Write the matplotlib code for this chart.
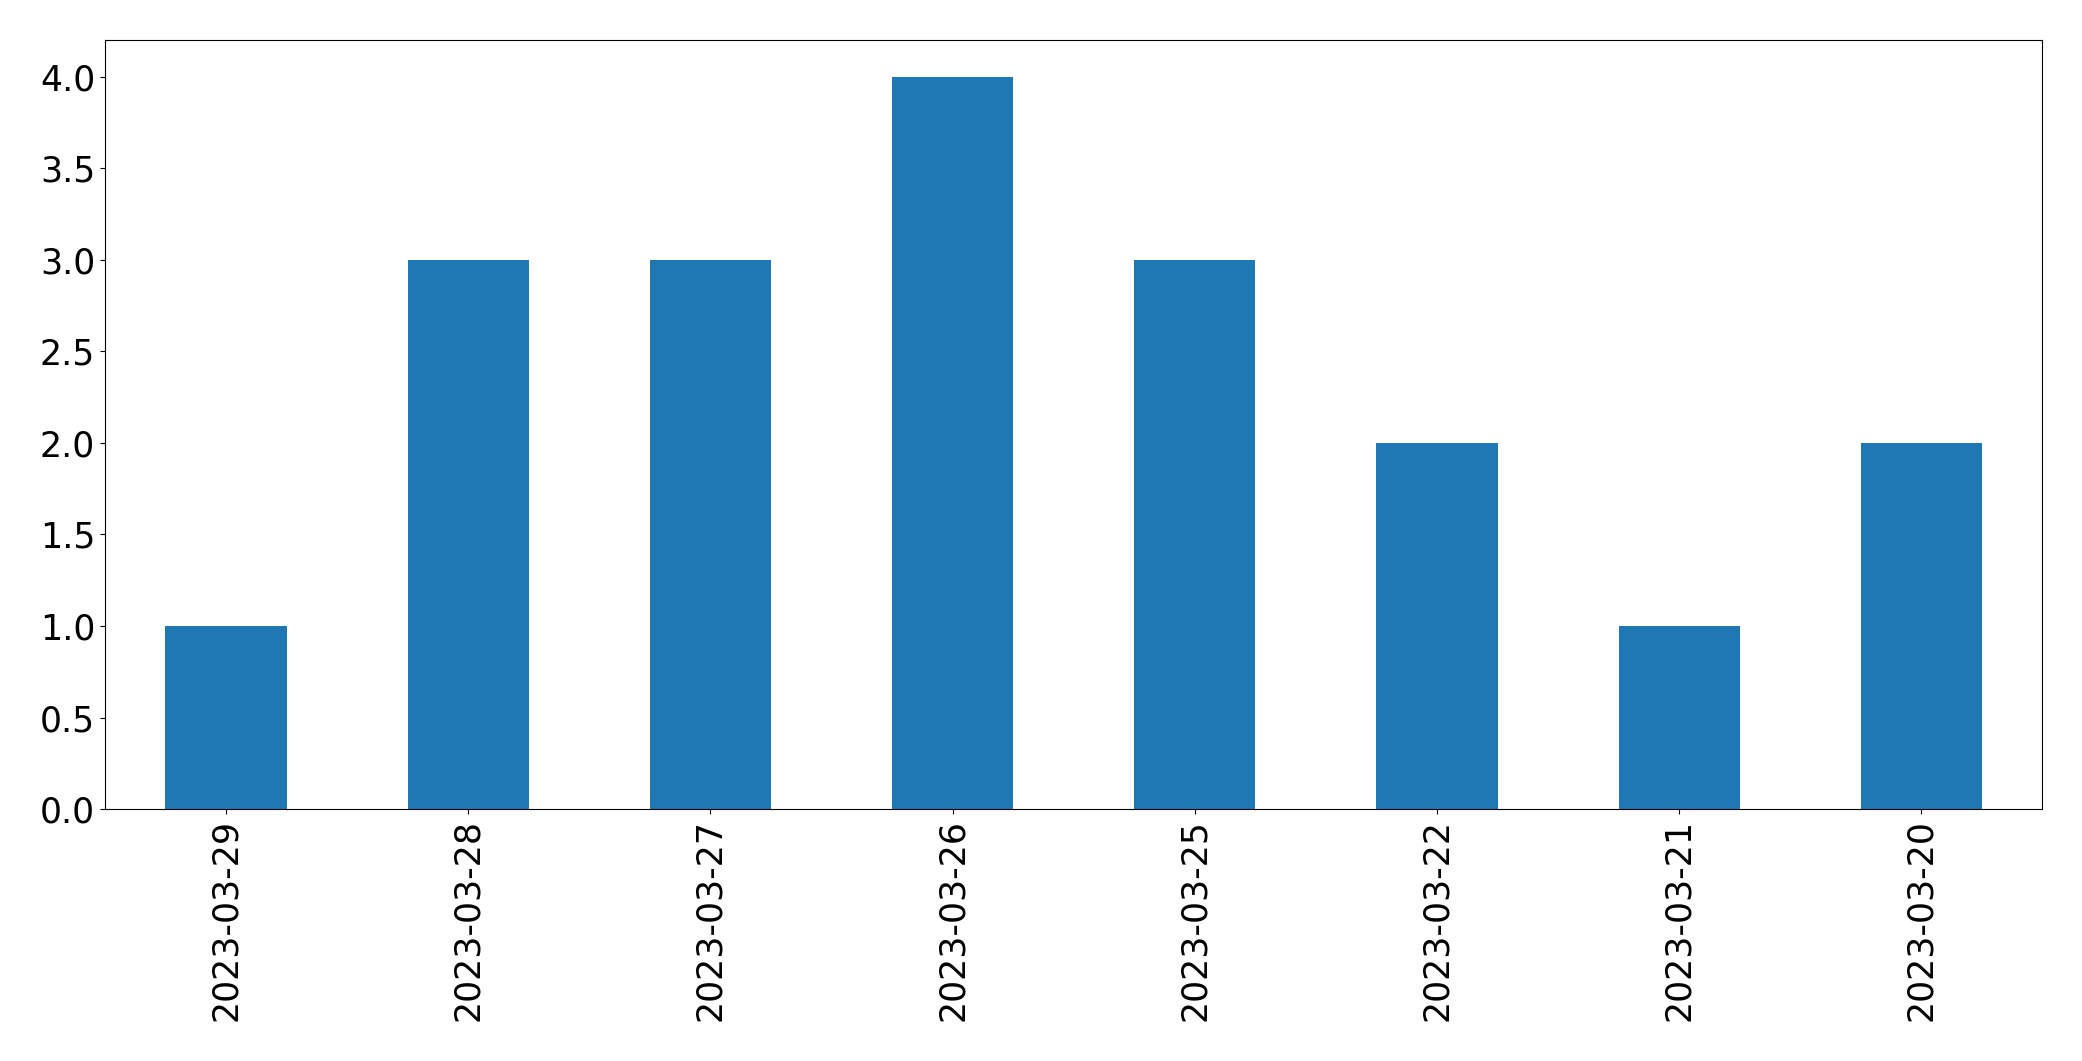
import matplotlib
matplotlib.use("Agg")
import matplotlib.pyplot as plt
import numpy as np

dates = ["2023-03-29", "2023-03-28", "2023-03-27", "2023-03-26",
         "2023-03-25", "2023-03-22", "2023-03-21", "2023-03-20"]
counts = [1, 3, 3, 4, 3, 2, 1, 2]

fig = plt.figure(figsize=(20.82, 10.61), dpi=100)
ax = fig.add_axes([0.0504, 0.2375, 0.9306, 0.7245])
x = np.arange(len(dates))
ax.bar(x, counts, width=0.5, color="#1f77b4")
ax.set_xlim(-0.5, len(dates) - 0.5)
ax.set_ylim(0, 4.2)
ax.set_xticks(x)
ax.set_xticklabels(dates, rotation=90, fontsize=25)
ax.tick_params(axis="y", labelsize=25)
fig.savefig("out.png", dpi=100)
